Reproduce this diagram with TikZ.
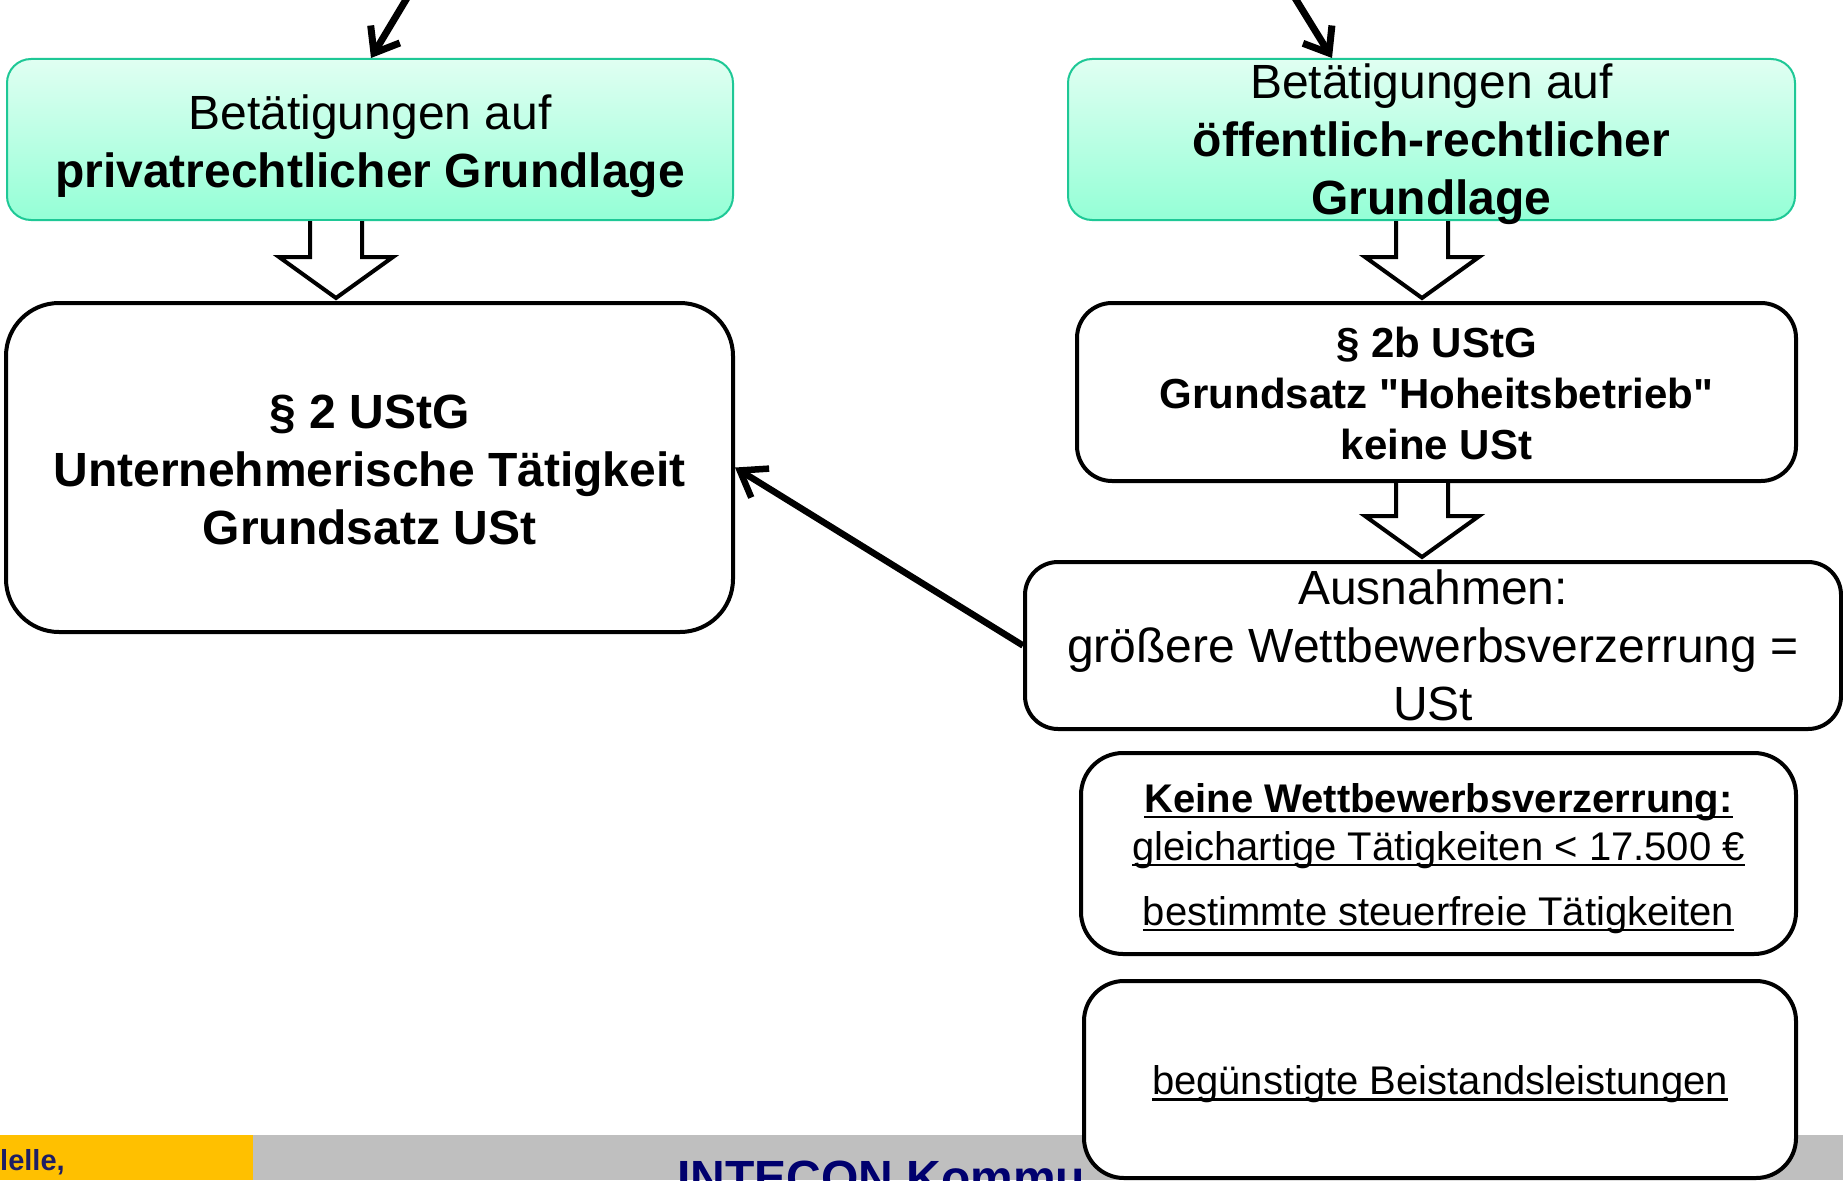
\documentclass[tikz,border=0pt]{standalone}
\usepackage{fontspec}
\setmainfont{Liberation Sans}
\newsavebox{\myulbox}
\newcommand{\myul}[1]{\sbox{\myulbox}{#1}\leavevmode\rlap{\rule[-6pt]{\wd\myulbox}{2.8pt}}\usebox{\myulbox}}
\usetikzlibrary{arrows.meta,calc}
\definecolor{mintTop}{RGB}{224,255,242}
\definecolor{mintBot}{RGB}{148,255,214}
\definecolor{mintLine}{RGB}{30,200,150}
\definecolor{barYellow}{RGB}{255,192,0}
\definecolor{barGrey}{RGB}{191,191,191}
\definecolor{navy}{RGB}{0,0,110}
\definecolor{navyDark}{RGB}{30,30,100}
\newcommand{\blockarrowpath}[3]{%
  \path[blockarrow] let \p1=([xshift=#3]#1), \p2=([xshift=#3]#2) in
  (\x1-26pt,\y1) -- (\x1-26pt,\y2+44pt) -- (\x1-57pt,\y2+44pt) -- (\x1,\y2+3pt)
  -- (\x1+57pt,\y2+44pt) -- (\x1+26pt,\y2+44pt) -- (\x1+26pt,\y1);}
\begin{document}
\begin{tikzpicture}[x=1pt,y=-1pt,
  greenbox/.style={draw=mintLine, line width=2pt, rounded corners=24pt, top color=mintTop, bottom color=mintBot, inner sep=0pt},
  whitebox/.style={draw=black, line width=4pt, fill=white, inner sep=0pt},
  txtL/.style={inner sep=0pt, align=center, font=\fontsize{48}{58}\selectfont},
  txtM/.style={inner sep=0pt, align=center, font=\fontsize{42}{51}\selectfont},
  txtS/.style={inner sep=0pt, align=center, font=\fontsize{40}{48}\selectfont},
  blockarrow/.style={draw=black, line width=4pt, fill=white, line join=miter},
  thinarrow/.style={draw=black, line width=7pt, -{Straight Barb[length=22pt,width=34pt]}},
  diagarrow/.style={draw=black, line width=6.5pt, -{Straight Barb[length=24pt,width=34pt]}},
  foot/.style={anchor=base west, inner sep=0pt}
]
\useasboundingbox (0,0) rectangle (1843,1180);
\clip (0,0) rectangle (1843,1180);
\fill[white] (0,0) rectangle (1843,1180);

% bottom bar
\fill[barYellow] (0,1135) rectangle (253,1180);
\fill[barGrey] (253,1135) rectangle (1843,1180);
\node[foot, text=navyDark, font=\fontsize{29}{34}\selectfont\bfseries] (foot1) at (0,1170) {lelle,};
\node[foot, text=navy, font=\fontsize{48}{56}\selectfont\bfseries] (foot2) at (677,1194) {INTECON Kommu};

% green boxes
\node[greenbox, minimum width=726pt, minimum height=161pt] (gL) at (370,139.5) {};
\node[txtL] (gLt) at ([yshift=-7pt]gL.center) {Betätigungen auf\\\textbf{privatrechtlicher Grundlage}};
\node[greenbox, minimum width=727pt, minimum height=161pt] (gR) at (1431.5,139.5) {};
\node[txtL] (gRt) at ([yshift=-5pt]gR.center) {Betätigungen auf\\\textbf{öffentlich-rechtlicher}\\\textbf{Grundlage}};

% white boxes
\node[whitebox, rounded corners=53pt, minimum width=727pt, minimum height=329pt] (bigL) at (369.5,467.5) {};
\node[txtL, font=\fontsize{48}{58}\selectfont\bfseries] (bigLt) at ([yshift=-2pt]bigL.center) {§ 2 UStG\\Unternehmerische Tätigkeit\\Grundsatz USt};

\node[whitebox, rounded corners=35pt, minimum width=719pt, minimum height=178pt] (b2) at (1436.5,392) {};
\node[txtM, font=\fontsize{42}{51}\selectfont\bfseries] (b2t) at ([yshift=-1pt]b2.center) {§ 2b UStG\\Grundsatz \textquotedbl Hoheitsbetrieb\textquotedbl\\keine USt};

\node[whitebox, rounded corners=33pt, minimum width=816pt, minimum height=167pt] (aus) at (1433,645.5) {};
\node[txtL] (aust) at (aus.center) {Ausnahmen:\\größere Wettbewerbsverzerrung =\\USt};

\node[whitebox, rounded corners=42pt, minimum width=715pt, minimum height=201pt] (keine) at (1438.5,853.5) {};
\node[txtS] (keinet) at ([yshift=-5pt]keine.center) {\myul{\textbf{Keine Wettbewerbsverzerrung:}}\\\myul{gleichartige Tätigkeiten < 17.500 €}\\[17pt]\myul{bestimmte steuerfreie Tätigkeiten}};

\node[whitebox, rounded corners=40pt, minimum width=712pt, minimum height=197pt] (beist) at (1440,1079.5) {};
\node[txtS] (beistt) at ([yshift=-5pt]beist.center) {\myul{begünstigte Beistandsleistungen}};

% block arrows
\blockarrowpath{gL.south}{bigL.north}{-34pt}
\blockarrowpath{gR.south}{b2.north}{-9.5pt}
\blockarrowpath{b2.south}{aus.north}{-14.5pt}

% thin arrows
\coordinate (tl) at (407,-2);
\coordinate (tr) at (1295,-2);
\draw[thinarrow] (tl) -- ([xshift=1pt]gL.north);
\draw[thinarrow] (tr) -- ([xshift=-99.5pt]gR.north);
\draw[diagarrow] (aus.west) -- (bigL.east);
\end{tikzpicture}
\end{document}
